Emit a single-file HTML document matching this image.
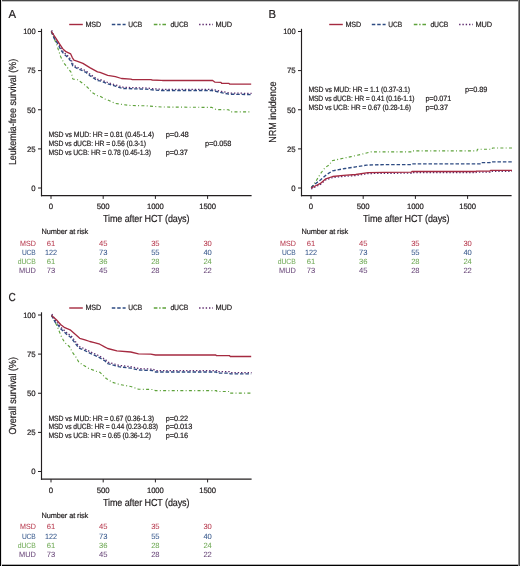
<!DOCTYPE html>
<html><head><meta charset="utf-8"><title>Survival curves</title>
<style>
html,body{margin:0;padding:0;background:#fff;}
body{width:520px;height:566px;overflow:hidden;}
svg{display:block;font-family:"Liberation Sans", sans-serif;will-change:transform;text-rendering:geometricPrecision;}
</style></head>
<body>
<svg width="520" height="566" viewBox="0 0 520 566">
<rect x="0" y="0" width="520" height="566" fill="#fff"/>
<text transform="translate(8.52,17.60) scale(0.9771,1)" font-size="11.6" fill="#231f20" stroke="#231f20" stroke-width="0.2" textLength="7.74" lengthAdjust="spacing" >A</text>
<line x1="69.20" y1="24.50" x2="82.80" y2="24.50" stroke="#a52a40" stroke-width="1.4"/>
<line x1="111.80" y1="24.50" x2="125.60" y2="24.50" stroke="#2e4b82" stroke-width="1.4" stroke-dasharray="3.5 1.9"/>
<line x1="153.80" y1="24.50" x2="166.40" y2="24.50" stroke="#5ea23b" stroke-width="1.3" stroke-dasharray="3.6 1.8 1.4 1.8"/>
<line x1="199.10" y1="24.50" x2="213.00" y2="24.50" stroke="#5e2a6e" stroke-width="1.4" stroke-dasharray="1.4 1.9"/>
<text transform="translate(85.42,26.80) scale(0.9450,1)" font-size="7.6" fill="#231f20" stroke="#231f20" stroke-width="0.2" textLength="16.68" lengthAdjust="spacing" >MSD</text>
<text transform="translate(128.22,26.80) scale(0.8762,1)" font-size="7.6" fill="#231f20" stroke="#231f20" stroke-width="0.2" textLength="15.82" lengthAdjust="spacing" >UCB</text>
<text transform="translate(170.42,26.80) scale(0.9007,1)" font-size="7.6" fill="#231f20" stroke="#231f20" stroke-width="0.2" textLength="19.94" lengthAdjust="spacing" >dUCB</text>
<text transform="translate(215.42,26.80) scale(0.9741,1)" font-size="7.6" fill="#231f20" stroke="#231f20" stroke-width="0.2" textLength="17.10" lengthAdjust="spacing" >MUD</text>
<line x1="41.50" y1="28.80" x2="41.50" y2="196.30" stroke="#231f20" stroke-width="1.15"/>
<line x1="40.95" y1="195.70" x2="251.60" y2="195.70" stroke="#231f20" stroke-width="1.2"/>
<line x1="38.00" y1="31.50" x2="41.50" y2="31.50" stroke="#231f20" stroke-width="1.0"/>
<text transform="translate(23.21,34.30) scale(0.9668,1)" font-size="7.8" fill="#231f20" stroke="#231f20" stroke-width="0.2" textLength="12.81" lengthAdjust="spacing" >100</text>
<line x1="38.00" y1="70.60" x2="41.50" y2="70.60" stroke="#231f20" stroke-width="1.0"/>
<text transform="translate(26.91,73.40) scale(1.0000,1)" font-size="7.8" fill="#231f20" stroke="#231f20" stroke-width="0.2" textLength="8.68" lengthAdjust="spacing" >75</text>
<line x1="38.00" y1="109.75" x2="41.50" y2="109.75" stroke="#231f20" stroke-width="1.0"/>
<text transform="translate(26.91,112.55) scale(1.0000,1)" font-size="7.8" fill="#231f20" stroke="#231f20" stroke-width="0.2" textLength="8.68" lengthAdjust="spacing" >50</text>
<line x1="38.00" y1="148.90" x2="41.50" y2="148.90" stroke="#231f20" stroke-width="1.0"/>
<text transform="translate(26.91,151.70) scale(1.0000,1)" font-size="7.8" fill="#231f20" stroke="#231f20" stroke-width="0.2" textLength="8.68" lengthAdjust="spacing" >25</text>
<line x1="38.00" y1="188.00" x2="41.50" y2="188.00" stroke="#231f20" stroke-width="1.0"/>
<text transform="translate(31.21,190.80) scale(1.0000,1)" font-size="7.8" fill="#231f20" stroke="#231f20" stroke-width="0.2" textLength="4.38" lengthAdjust="spacing" >0</text>
<line x1="51.00" y1="195.70" x2="51.00" y2="198.90" stroke="#231f20" stroke-width="1.0"/>
<text transform="translate(48.81,209.20) scale(1.0000,1)" font-size="7.8" fill="#231f20" stroke="#231f20" stroke-width="0.2" textLength="4.38" lengthAdjust="spacing" >0</text>
<line x1="103.20" y1="195.70" x2="103.20" y2="198.90" stroke="#231f20" stroke-width="1.0"/>
<text transform="translate(96.76,209.20) scale(1.0000,1)" font-size="7.8" fill="#231f20" stroke="#231f20" stroke-width="0.2" textLength="12.88" lengthAdjust="spacing" >500</text>
<line x1="155.40" y1="195.70" x2="155.40" y2="198.90" stroke="#231f20" stroke-width="1.0"/>
<text transform="translate(147.01,209.20) scale(0.9844,1)" font-size="7.8" fill="#231f20" stroke="#231f20" stroke-width="0.2" textLength="17.05" lengthAdjust="spacing" >1000</text>
<line x1="207.60" y1="195.70" x2="207.60" y2="198.90" stroke="#231f20" stroke-width="1.0"/>
<text transform="translate(199.21,209.20) scale(0.9844,1)" font-size="7.8" fill="#231f20" stroke="#231f20" stroke-width="0.2" textLength="17.05" lengthAdjust="spacing" >1500</text>
<text transform="translate(102.99,222.40) scale(0.8825,1)" font-size="10.2" fill="#231f20" stroke="#231f20" stroke-width="0.2" textLength="98.04" lengthAdjust="spacing" >Time after HCT (days)</text>
<text transform="translate(15.60,165.10) rotate(-90)" x="0" y="0" font-size="10.2" fill="#231f20" stroke="#231f20" stroke-width="0.2" textLength="106.30" lengthAdjust="spacingAndGlyphs">Leukemia-free survival (%)</text>
<polyline points="51.30,31.50 54.20,38.50 56.40,43.80 58.50,50.10 60.60,56.50 63.80,62.90 67.50,67.60 71.20,72.40 72.30,76.70 72.80,79.00 77.60,79.80 80.80,82.00 85.00,85.10 89.20,88.90 91.10,91.80 97.50,95.70 100.00,96.20 104.60,98.90 107.70,100.00 115.40,103.40 123.00,104.60 130.80,105.50 146.00,105.80 161.50,107.00 211.90,107.40 216.00,109.50 228.80,109.80 230.40,111.80 251.20,111.80" fill="none" stroke="#5ea23b" stroke-width="1.15" stroke-dasharray="3.0 2.3 1.0 2.3" stroke-linejoin="round"/>
<polyline points="51.70,30.30 54.60,37.30 58.90,43.60 61.00,48.40 64.20,52.70 68.40,56.40 71.60,60.60 73.20,64.90 78.00,67.50 82.20,69.10 86.50,71.20 90.20,74.40 97.90,79.40 100.40,79.60 108.10,82.60 115.80,85.00 123.40,87.30 146.40,88.00 154.20,88.80 161.90,89.30 212.30,89.30 221.60,91.40 229.20,93.00 251.60,93.40" fill="none" stroke="#5e2a6e" stroke-width="1.25" stroke-dasharray="1.4 1.9" stroke-linejoin="round"/>
<polyline points="51.30,31.50 54.20,38.50 58.50,44.80 60.60,49.60 63.80,53.90 68.00,57.60 71.20,61.80 72.80,66.10 77.60,68.70 81.80,70.30 86.10,72.40 89.80,75.60 97.50,80.60 100.00,80.80 107.70,83.80 115.40,86.20 123.00,88.50 146.00,89.20 153.80,90.00 161.50,90.50 211.90,90.50 221.20,92.60 228.80,94.20 251.20,94.60" fill="none" stroke="#2e4b82" stroke-width="1.35" stroke-dasharray="3.5 1.9" stroke-linejoin="round"/>
<polyline points="51.30,31.50 55.30,37.40 59.50,43.80 62.70,48.60 65.90,51.70 70.70,53.90 72.30,57.60 73.90,60.20 77.60,61.30 82.90,63.40 89.80,67.60 97.50,71.90 100.00,72.30 107.70,75.40 115.40,76.60 121.50,78.50 130.80,79.20 132.30,79.70 150.80,79.70 152.30,80.00 161.50,80.30 163.00,80.50 212.70,80.50 215.00,82.20 221.00,82.40 221.60,83.30 229.00,83.30 229.60,84.20 251.20,84.20" fill="none" stroke="#a52a40" stroke-width="1.3" stroke-linejoin="round"/>
<text transform="translate(48.42,137.00) scale(0.9076,1)" font-size="7.6" fill="#231f20" stroke="#231f20" stroke-width="0.2" textLength="116.31" lengthAdjust="spacing" >MSD vs MUD: HR = 0.81 (0.45-1.4)</text>
<text transform="translate(48.42,145.90) scale(0.8959,1)" font-size="7.6" fill="#231f20" stroke="#231f20" stroke-width="0.2" textLength="108.89" lengthAdjust="spacing" >MSD vs dUCB: HR = 0.56 (0.3-1)</text>
<text transform="translate(48.42,154.80) scale(0.8927,1)" font-size="7.6" fill="#231f20" stroke="#231f20" stroke-width="0.2" textLength="114.99" lengthAdjust="spacing" >MSD vs UCB: HR = 0.78 (0.45-1.3)</text>
<text transform="translate(165.72,137.00) scale(1.0000,1)" font-size="7.6" fill="#231f20" stroke="#231f20" stroke-width="0.2" textLength="23.06" lengthAdjust="spacing" >p=0.48</text>
<text transform="translate(205.02,145.90) scale(0.9739,1)" font-size="7.6" fill="#231f20" stroke="#231f20" stroke-width="0.2" textLength="27.07" lengthAdjust="spacing" >p=0.058</text>
<text transform="translate(165.72,154.80) scale(0.9703,1)" font-size="7.6" fill="#231f20" stroke="#231f20" stroke-width="0.2" textLength="22.94" lengthAdjust="spacing" >p=0.37</text>
<text transform="translate(41.52,234.20) scale(0.9727,1)" font-size="7.6" fill="#231f20" stroke="#231f20" stroke-width="0.2" textLength="48.07" lengthAdjust="spacing" >Number at risk</text>
<text transform="translate(20.12,245.80) scale(0.9391,1)" font-size="7.6" fill="#b83c50" stroke="#b83c50" stroke-width="0.05" textLength="16.68" lengthAdjust="spacing" >MSD</text>
<text transform="translate(46.82,245.80) scale(1.0000,1)" font-size="7.6" fill="#b83c50" stroke="#b83c50" stroke-width="0.05" textLength="8.36" lengthAdjust="spacing" >61</text>
<text transform="translate(99.02,245.80) scale(1.0000,1)" font-size="7.6" fill="#b83c50" stroke="#b83c50" stroke-width="0.05" textLength="8.36" lengthAdjust="spacing" >45</text>
<text transform="translate(151.22,245.80) scale(1.0000,1)" font-size="7.6" fill="#b83c50" stroke="#b83c50" stroke-width="0.05" textLength="8.36" lengthAdjust="spacing" >35</text>
<text transform="translate(203.42,245.80) scale(1.0000,1)" font-size="7.6" fill="#b83c50" stroke="#b83c50" stroke-width="0.05" textLength="8.36" lengthAdjust="spacing" >30</text>
<text transform="translate(21.92,255.20) scale(0.8762,1)" font-size="7.6" fill="#37588c" stroke="#37588c" stroke-width="0.05" textLength="15.82" lengthAdjust="spacing" >UCB</text>
<text transform="translate(45.02,255.20) scale(0.9591,1)" font-size="7.6" fill="#37588c" stroke="#37588c" stroke-width="0.05" textLength="12.47" lengthAdjust="spacing" >122</text>
<text transform="translate(99.02,255.20) scale(1.0000,1)" font-size="7.6" fill="#37588c" stroke="#37588c" stroke-width="0.05" textLength="8.36" lengthAdjust="spacing" >73</text>
<text transform="translate(151.22,255.20) scale(1.0000,1)" font-size="7.6" fill="#37588c" stroke="#37588c" stroke-width="0.05" textLength="8.36" lengthAdjust="spacing" >55</text>
<text transform="translate(203.42,255.20) scale(1.0000,1)" font-size="7.6" fill="#37588c" stroke="#37588c" stroke-width="0.05" textLength="8.36" lengthAdjust="spacing" >40</text>
<text transform="translate(17.82,264.40) scale(0.9007,1)" font-size="7.6" fill="#70aa56" stroke="#70aa56" stroke-width="0.05" textLength="19.94" lengthAdjust="spacing" >dUCB</text>
<text transform="translate(46.82,264.40) scale(1.0000,1)" font-size="7.6" fill="#70aa56" stroke="#70aa56" stroke-width="0.05" textLength="8.36" lengthAdjust="spacing" >61</text>
<text transform="translate(99.02,264.40) scale(1.0000,1)" font-size="7.6" fill="#70aa56" stroke="#70aa56" stroke-width="0.05" textLength="8.36" lengthAdjust="spacing" >36</text>
<text transform="translate(151.22,264.40) scale(1.0000,1)" font-size="7.6" fill="#70aa56" stroke="#70aa56" stroke-width="0.05" textLength="8.36" lengthAdjust="spacing" >28</text>
<text transform="translate(203.42,264.40) scale(1.0000,1)" font-size="7.6" fill="#70aa56" stroke="#70aa56" stroke-width="0.05" textLength="8.36" lengthAdjust="spacing" >24</text>
<text transform="translate(19.12,273.00) scale(0.9741,1)" font-size="7.6" fill="#6a487a" stroke="#6a487a" stroke-width="0.05" textLength="17.10" lengthAdjust="spacing" >MUD</text>
<text transform="translate(46.82,273.00) scale(1.0000,1)" font-size="7.6" fill="#6a487a" stroke="#6a487a" stroke-width="0.05" textLength="8.36" lengthAdjust="spacing" >73</text>
<text transform="translate(99.02,273.00) scale(1.0000,1)" font-size="7.6" fill="#6a487a" stroke="#6a487a" stroke-width="0.05" textLength="8.36" lengthAdjust="spacing" >45</text>
<text transform="translate(151.22,273.00) scale(1.0000,1)" font-size="7.6" fill="#6a487a" stroke="#6a487a" stroke-width="0.05" textLength="8.36" lengthAdjust="spacing" >28</text>
<text transform="translate(203.42,273.00) scale(1.0000,1)" font-size="7.6" fill="#6a487a" stroke="#6a487a" stroke-width="0.05" textLength="8.36" lengthAdjust="spacing" >22</text>
<text transform="translate(268.52,17.60) scale(0.9771,1)" font-size="11.6" fill="#231f20" stroke="#231f20" stroke-width="0.2" textLength="7.74" lengthAdjust="spacing" >B</text>
<line x1="329.20" y1="24.50" x2="342.80" y2="24.50" stroke="#a52a40" stroke-width="1.4"/>
<line x1="371.80" y1="24.50" x2="385.60" y2="24.50" stroke="#2e4b82" stroke-width="1.4" stroke-dasharray="3.5 1.9"/>
<line x1="413.80" y1="24.50" x2="426.40" y2="24.50" stroke="#5ea23b" stroke-width="1.3" stroke-dasharray="3.6 1.8 1.4 1.8"/>
<line x1="459.10" y1="24.50" x2="473.00" y2="24.50" stroke="#5e2a6e" stroke-width="1.4" stroke-dasharray="1.4 1.9"/>
<text transform="translate(345.42,26.80) scale(0.9450,1)" font-size="7.6" fill="#231f20" stroke="#231f20" stroke-width="0.2" textLength="16.68" lengthAdjust="spacing" >MSD</text>
<text transform="translate(388.22,26.80) scale(0.8762,1)" font-size="7.6" fill="#231f20" stroke="#231f20" stroke-width="0.2" textLength="15.82" lengthAdjust="spacing" >UCB</text>
<text transform="translate(430.42,26.80) scale(0.9007,1)" font-size="7.6" fill="#231f20" stroke="#231f20" stroke-width="0.2" textLength="19.94" lengthAdjust="spacing" >dUCB</text>
<text transform="translate(475.42,26.80) scale(0.9741,1)" font-size="7.6" fill="#231f20" stroke="#231f20" stroke-width="0.2" textLength="17.10" lengthAdjust="spacing" >MUD</text>
<line x1="301.50" y1="28.80" x2="301.50" y2="196.30" stroke="#231f20" stroke-width="1.15"/>
<line x1="300.95" y1="195.70" x2="511.60" y2="195.70" stroke="#231f20" stroke-width="1.2"/>
<line x1="298.00" y1="31.50" x2="301.50" y2="31.50" stroke="#231f20" stroke-width="1.0"/>
<text transform="translate(283.21,34.30) scale(0.9668,1)" font-size="7.8" fill="#231f20" stroke="#231f20" stroke-width="0.2" textLength="12.81" lengthAdjust="spacing" >100</text>
<line x1="298.00" y1="70.60" x2="301.50" y2="70.60" stroke="#231f20" stroke-width="1.0"/>
<text transform="translate(286.91,73.40) scale(1.0000,1)" font-size="7.8" fill="#231f20" stroke="#231f20" stroke-width="0.2" textLength="8.68" lengthAdjust="spacing" >75</text>
<line x1="298.00" y1="109.75" x2="301.50" y2="109.75" stroke="#231f20" stroke-width="1.0"/>
<text transform="translate(286.91,112.55) scale(1.0000,1)" font-size="7.8" fill="#231f20" stroke="#231f20" stroke-width="0.2" textLength="8.68" lengthAdjust="spacing" >50</text>
<line x1="298.00" y1="148.90" x2="301.50" y2="148.90" stroke="#231f20" stroke-width="1.0"/>
<text transform="translate(286.91,151.70) scale(1.0000,1)" font-size="7.8" fill="#231f20" stroke="#231f20" stroke-width="0.2" textLength="8.68" lengthAdjust="spacing" >25</text>
<line x1="298.00" y1="188.00" x2="301.50" y2="188.00" stroke="#231f20" stroke-width="1.0"/>
<text transform="translate(291.21,190.80) scale(1.0000,1)" font-size="7.8" fill="#231f20" stroke="#231f20" stroke-width="0.2" textLength="4.38" lengthAdjust="spacing" >0</text>
<line x1="311.00" y1="195.70" x2="311.00" y2="198.90" stroke="#231f20" stroke-width="1.0"/>
<text transform="translate(308.81,209.20) scale(1.0000,1)" font-size="7.8" fill="#231f20" stroke="#231f20" stroke-width="0.2" textLength="4.38" lengthAdjust="spacing" >0</text>
<line x1="363.20" y1="195.70" x2="363.20" y2="198.90" stroke="#231f20" stroke-width="1.0"/>
<text transform="translate(356.76,209.20) scale(1.0000,1)" font-size="7.8" fill="#231f20" stroke="#231f20" stroke-width="0.2" textLength="12.88" lengthAdjust="spacing" >500</text>
<line x1="415.40" y1="195.70" x2="415.40" y2="198.90" stroke="#231f20" stroke-width="1.0"/>
<text transform="translate(407.01,209.20) scale(0.9844,1)" font-size="7.8" fill="#231f20" stroke="#231f20" stroke-width="0.2" textLength="17.05" lengthAdjust="spacing" >1000</text>
<line x1="467.60" y1="195.70" x2="467.60" y2="198.90" stroke="#231f20" stroke-width="1.0"/>
<text transform="translate(459.21,209.20) scale(0.9844,1)" font-size="7.8" fill="#231f20" stroke="#231f20" stroke-width="0.2" textLength="17.05" lengthAdjust="spacing" >1500</text>
<text transform="translate(362.99,222.40) scale(0.8825,1)" font-size="10.2" fill="#231f20" stroke="#231f20" stroke-width="0.2" textLength="98.04" lengthAdjust="spacing" >Time after HCT (days)</text>
<text transform="translate(275.60,142.70) rotate(-90)" x="0" y="0" font-size="10.2" fill="#231f20" stroke="#231f20" stroke-width="0.2" textLength="61.10" lengthAdjust="spacingAndGlyphs">NRM incidence</text>
<polyline points="311.20,187.70 315.80,181.50 320.40,173.80 325.00,167.70 329.60,164.60 331.90,160.80 338.80,159.20 351.20,156.60 363.50,153.80 371.20,151.80 411.50,151.80 412.00,150.80 477.00,150.80 477.50,149.20 492.00,149.20 492.50,148.00 512.00,148.00" fill="none" stroke="#5ea23b" stroke-width="1.15" stroke-dasharray="3.0 2.3 1.0 2.3" stroke-linejoin="round"/>
<polyline points="311.20,189.00 314.20,187.50 320.40,184.40 325.80,179.80 332.70,177.50 343.50,176.40 355.80,175.50 368.10,173.60 384.20,173.30 411.50,173.20 412.00,172.50 476.00,172.50 476.50,172.10 490.00,172.10 490.50,171.30 512.00,171.30" fill="none" stroke="#5e2a6e" stroke-width="1.25" stroke-dasharray="1.4 1.9" stroke-linejoin="round"/>
<polyline points="311.20,187.70 314.20,184.60 320.40,180.00 326.50,174.60 332.70,170.80 345.00,168.50 355.80,166.90 366.50,165.10 384.20,164.60 411.50,164.60 412.00,163.80 481.00,163.80 481.50,162.60 490.00,162.60 490.50,161.80 512.00,161.80" fill="none" stroke="#2e4b82" stroke-width="1.35" stroke-dasharray="3.5 1.9" stroke-linejoin="round"/>
<polyline points="311.20,188.00 314.20,186.50 320.40,183.40 325.80,178.80 332.70,176.50 343.50,175.40 355.80,174.50 368.10,172.60 384.20,172.30 411.50,172.20 412.00,171.50 476.00,171.50 476.50,171.10 490.00,171.10 490.50,170.30 512.00,170.30" fill="none" stroke="#a52a40" stroke-width="1.3" stroke-linejoin="round"/>
<text transform="translate(308.42,92.10) scale(0.9053,1)" font-size="7.6" fill="#231f20" stroke="#231f20" stroke-width="0.2" textLength="112.19" lengthAdjust="spacing" >MSD vs MUD: HR = 1.1 (0.37-3.1)</text>
<text transform="translate(308.42,101.00) scale(0.8913,1)" font-size="7.6" fill="#231f20" stroke="#231f20" stroke-width="0.2" textLength="119.10" lengthAdjust="spacing" >MSD vs dUCB: HR = 0.41 (0.16-1.1)</text>
<text transform="translate(308.42,110.00) scale(0.8927,1)" font-size="7.6" fill="#231f20" stroke="#231f20" stroke-width="0.2" textLength="114.99" lengthAdjust="spacing" >MSD vs UCB: HR = 0.67 (0.28-1.6)</text>
<text transform="translate(465.02,92.10) scale(0.9703,1)" font-size="7.6" fill="#231f20" stroke="#231f20" stroke-width="0.2" textLength="22.94" lengthAdjust="spacing" >p=0.89</text>
<text transform="translate(425.42,101.00) scale(0.9522,1)" font-size="7.6" fill="#231f20" stroke="#231f20" stroke-width="0.2" textLength="27.05" lengthAdjust="spacing" >p=0.071</text>
<text transform="translate(425.42,110.00) scale(0.9874,1)" font-size="7.6" fill="#231f20" stroke="#231f20" stroke-width="0.2" textLength="22.95" lengthAdjust="spacing" >p=0.37</text>
<text transform="translate(301.52,234.20) scale(0.9727,1)" font-size="7.6" fill="#231f20" stroke="#231f20" stroke-width="0.2" textLength="48.07" lengthAdjust="spacing" >Number at risk</text>
<text transform="translate(280.12,245.80) scale(0.9391,1)" font-size="7.6" fill="#b83c50" stroke="#b83c50" stroke-width="0.05" textLength="16.68" lengthAdjust="spacing" >MSD</text>
<text transform="translate(306.82,245.80) scale(1.0000,1)" font-size="7.6" fill="#b83c50" stroke="#b83c50" stroke-width="0.05" textLength="8.36" lengthAdjust="spacing" >61</text>
<text transform="translate(359.02,245.80) scale(1.0000,1)" font-size="7.6" fill="#b83c50" stroke="#b83c50" stroke-width="0.05" textLength="8.36" lengthAdjust="spacing" >45</text>
<text transform="translate(411.22,245.80) scale(1.0000,1)" font-size="7.6" fill="#b83c50" stroke="#b83c50" stroke-width="0.05" textLength="8.36" lengthAdjust="spacing" >35</text>
<text transform="translate(463.42,245.80) scale(1.0000,1)" font-size="7.6" fill="#b83c50" stroke="#b83c50" stroke-width="0.05" textLength="8.36" lengthAdjust="spacing" >30</text>
<text transform="translate(281.92,255.20) scale(0.8762,1)" font-size="7.6" fill="#37588c" stroke="#37588c" stroke-width="0.05" textLength="15.82" lengthAdjust="spacing" >UCB</text>
<text transform="translate(305.02,255.20) scale(0.9591,1)" font-size="7.6" fill="#37588c" stroke="#37588c" stroke-width="0.05" textLength="12.47" lengthAdjust="spacing" >122</text>
<text transform="translate(359.02,255.20) scale(1.0000,1)" font-size="7.6" fill="#37588c" stroke="#37588c" stroke-width="0.05" textLength="8.36" lengthAdjust="spacing" >73</text>
<text transform="translate(411.22,255.20) scale(1.0000,1)" font-size="7.6" fill="#37588c" stroke="#37588c" stroke-width="0.05" textLength="8.36" lengthAdjust="spacing" >55</text>
<text transform="translate(463.42,255.20) scale(1.0000,1)" font-size="7.6" fill="#37588c" stroke="#37588c" stroke-width="0.05" textLength="8.36" lengthAdjust="spacing" >40</text>
<text transform="translate(277.82,264.40) scale(0.9007,1)" font-size="7.6" fill="#70aa56" stroke="#70aa56" stroke-width="0.05" textLength="19.94" lengthAdjust="spacing" >dUCB</text>
<text transform="translate(306.82,264.40) scale(1.0000,1)" font-size="7.6" fill="#70aa56" stroke="#70aa56" stroke-width="0.05" textLength="8.36" lengthAdjust="spacing" >61</text>
<text transform="translate(359.02,264.40) scale(1.0000,1)" font-size="7.6" fill="#70aa56" stroke="#70aa56" stroke-width="0.05" textLength="8.36" lengthAdjust="spacing" >36</text>
<text transform="translate(411.22,264.40) scale(1.0000,1)" font-size="7.6" fill="#70aa56" stroke="#70aa56" stroke-width="0.05" textLength="8.36" lengthAdjust="spacing" >28</text>
<text transform="translate(463.42,264.40) scale(1.0000,1)" font-size="7.6" fill="#70aa56" stroke="#70aa56" stroke-width="0.05" textLength="8.36" lengthAdjust="spacing" >24</text>
<text transform="translate(279.12,273.00) scale(0.9741,1)" font-size="7.6" fill="#6a487a" stroke="#6a487a" stroke-width="0.05" textLength="17.10" lengthAdjust="spacing" >MUD</text>
<text transform="translate(306.82,273.00) scale(1.0000,1)" font-size="7.6" fill="#6a487a" stroke="#6a487a" stroke-width="0.05" textLength="8.36" lengthAdjust="spacing" >73</text>
<text transform="translate(359.02,273.00) scale(1.0000,1)" font-size="7.6" fill="#6a487a" stroke="#6a487a" stroke-width="0.05" textLength="8.36" lengthAdjust="spacing" >45</text>
<text transform="translate(411.22,273.00) scale(1.0000,1)" font-size="7.6" fill="#6a487a" stroke="#6a487a" stroke-width="0.05" textLength="8.36" lengthAdjust="spacing" >28</text>
<text transform="translate(463.42,273.00) scale(1.0000,1)" font-size="7.6" fill="#6a487a" stroke="#6a487a" stroke-width="0.05" textLength="8.36" lengthAdjust="spacing" >22</text>
<text transform="translate(8.52,301.10) scale(0.8666,1)" font-size="11.6" fill="#231f20" stroke="#231f20" stroke-width="0.2" textLength="8.38" lengthAdjust="spacing" >C</text>
<line x1="69.20" y1="308.00" x2="82.80" y2="308.00" stroke="#a52a40" stroke-width="1.4"/>
<line x1="111.80" y1="308.00" x2="125.60" y2="308.00" stroke="#2e4b82" stroke-width="1.4" stroke-dasharray="3.5 1.9"/>
<line x1="153.80" y1="308.00" x2="166.40" y2="308.00" stroke="#5ea23b" stroke-width="1.3" stroke-dasharray="3.6 1.8 1.4 1.8"/>
<line x1="199.10" y1="308.00" x2="213.00" y2="308.00" stroke="#5e2a6e" stroke-width="1.4" stroke-dasharray="1.4 1.9"/>
<text transform="translate(85.42,310.30) scale(0.9450,1)" font-size="7.6" fill="#231f20" stroke="#231f20" stroke-width="0.2" textLength="16.68" lengthAdjust="spacing" >MSD</text>
<text transform="translate(128.22,310.30) scale(0.8762,1)" font-size="7.6" fill="#231f20" stroke="#231f20" stroke-width="0.2" textLength="15.82" lengthAdjust="spacing" >UCB</text>
<text transform="translate(170.42,310.30) scale(0.9007,1)" font-size="7.6" fill="#231f20" stroke="#231f20" stroke-width="0.2" textLength="19.94" lengthAdjust="spacing" >dUCB</text>
<text transform="translate(215.42,310.30) scale(0.9741,1)" font-size="7.6" fill="#231f20" stroke="#231f20" stroke-width="0.2" textLength="17.10" lengthAdjust="spacing" >MUD</text>
<line x1="41.50" y1="312.30" x2="41.50" y2="479.80" stroke="#231f20" stroke-width="1.15"/>
<line x1="40.95" y1="479.20" x2="251.60" y2="479.20" stroke="#231f20" stroke-width="1.2"/>
<line x1="38.00" y1="315.00" x2="41.50" y2="315.00" stroke="#231f20" stroke-width="1.0"/>
<text transform="translate(23.21,317.80) scale(0.9668,1)" font-size="7.8" fill="#231f20" stroke="#231f20" stroke-width="0.2" textLength="12.81" lengthAdjust="spacing" >100</text>
<line x1="38.00" y1="354.10" x2="41.50" y2="354.10" stroke="#231f20" stroke-width="1.0"/>
<text transform="translate(26.91,356.90) scale(1.0000,1)" font-size="7.8" fill="#231f20" stroke="#231f20" stroke-width="0.2" textLength="8.68" lengthAdjust="spacing" >75</text>
<line x1="38.00" y1="393.25" x2="41.50" y2="393.25" stroke="#231f20" stroke-width="1.0"/>
<text transform="translate(26.91,396.05) scale(1.0000,1)" font-size="7.8" fill="#231f20" stroke="#231f20" stroke-width="0.2" textLength="8.68" lengthAdjust="spacing" >50</text>
<line x1="38.00" y1="432.40" x2="41.50" y2="432.40" stroke="#231f20" stroke-width="1.0"/>
<text transform="translate(26.91,435.20) scale(1.0000,1)" font-size="7.8" fill="#231f20" stroke="#231f20" stroke-width="0.2" textLength="8.68" lengthAdjust="spacing" >25</text>
<line x1="38.00" y1="471.50" x2="41.50" y2="471.50" stroke="#231f20" stroke-width="1.0"/>
<text transform="translate(31.21,474.30) scale(1.0000,1)" font-size="7.8" fill="#231f20" stroke="#231f20" stroke-width="0.2" textLength="4.38" lengthAdjust="spacing" >0</text>
<line x1="51.00" y1="479.20" x2="51.00" y2="482.40" stroke="#231f20" stroke-width="1.0"/>
<text transform="translate(48.81,492.70) scale(1.0000,1)" font-size="7.8" fill="#231f20" stroke="#231f20" stroke-width="0.2" textLength="4.38" lengthAdjust="spacing" >0</text>
<line x1="103.20" y1="479.20" x2="103.20" y2="482.40" stroke="#231f20" stroke-width="1.0"/>
<text transform="translate(96.76,492.70) scale(1.0000,1)" font-size="7.8" fill="#231f20" stroke="#231f20" stroke-width="0.2" textLength="12.88" lengthAdjust="spacing" >500</text>
<line x1="155.40" y1="479.20" x2="155.40" y2="482.40" stroke="#231f20" stroke-width="1.0"/>
<text transform="translate(147.01,492.70) scale(0.9844,1)" font-size="7.8" fill="#231f20" stroke="#231f20" stroke-width="0.2" textLength="17.05" lengthAdjust="spacing" >1000</text>
<line x1="207.60" y1="479.20" x2="207.60" y2="482.40" stroke="#231f20" stroke-width="1.0"/>
<text transform="translate(199.21,492.70) scale(0.9844,1)" font-size="7.8" fill="#231f20" stroke="#231f20" stroke-width="0.2" textLength="17.05" lengthAdjust="spacing" >1500</text>
<text transform="translate(102.99,505.90) scale(0.8825,1)" font-size="10.2" fill="#231f20" stroke="#231f20" stroke-width="0.2" textLength="98.04" lengthAdjust="spacing" >Time after HCT (days)</text>
<text transform="translate(15.60,434.60) rotate(-90)" x="0" y="0" font-size="10.2" fill="#231f20" stroke="#231f20" stroke-width="0.2" textLength="77.60" lengthAdjust="spacingAndGlyphs">Overall survival (%)</text>
<polyline points="51.50,315.40 54.80,321.40 57.40,326.70 59.50,332.00 61.70,337.30 64.80,342.60 69.60,346.80 72.30,352.10 75.50,356.40 78.60,361.70 81.80,364.30 89.20,368.60 95.90,371.20 100.00,372.30 106.20,378.50 112.30,382.30 120.00,384.60 130.80,386.50 138.50,389.20 152.30,389.50 155.40,390.60 216.50,390.60 217.00,391.50 229.60,391.50 230.10,393.10 251.20,393.10" fill="none" stroke="#5ea23b" stroke-width="1.15" stroke-dasharray="3.0 2.3 1.0 2.3" stroke-linejoin="round"/>
<polyline points="51.90,314.00 55.70,321.00 58.90,324.20 61.00,327.40 66.30,332.20 71.60,336.40 75.90,342.20 79.00,346.50 84.30,348.60 90.20,351.80 97.90,355.20 105.00,359.20 108.10,362.20 118.90,365.30 131.20,366.80 138.90,368.60 152.70,369.10 155.80,370.60 216.90,370.60 217.40,371.70 230.00,371.70 230.50,372.50 251.60,372.50" fill="none" stroke="#5e2a6e" stroke-width="1.25" stroke-dasharray="1.4 1.9" stroke-linejoin="round"/>
<polyline points="51.50,315.40 55.30,322.40 58.50,325.60 60.60,328.80 65.90,333.60 71.20,337.80 75.50,343.60 78.60,347.90 83.90,350.00 89.80,353.20 97.50,356.60 104.60,360.60 107.70,363.60 118.50,366.70 130.80,368.20 138.50,370.00 152.30,370.50 155.40,372.00 216.50,372.00 217.00,373.10 229.60,373.10 230.10,373.90 251.20,373.90" fill="none" stroke="#2e4b82" stroke-width="1.35" stroke-dasharray="3.5 1.9" stroke-linejoin="round"/>
<polyline points="51.50,315.40 56.40,319.80 60.60,324.50 64.80,327.70 70.10,329.80 75.50,334.60 79.70,338.30 85.00,339.90 89.80,341.50 94.30,342.60 99.80,344.20 104.60,346.90 107.70,348.50 116.90,350.80 130.80,352.00 138.50,353.80 150.80,354.20 155.40,355.00 215.80,355.00 216.30,355.70 229.60,355.70 230.10,356.50 251.20,356.50" fill="none" stroke="#a52a40" stroke-width="1.3" stroke-linejoin="round"/>
<text transform="translate(48.42,420.50) scale(0.9076,1)" font-size="7.6" fill="#231f20" stroke="#231f20" stroke-width="0.2" textLength="116.31" lengthAdjust="spacing" >MSD vs MUD: HR = 0.67 (0.36-1.3)</text>
<text transform="translate(48.42,429.40) scale(0.8900,1)" font-size="7.6" fill="#231f20" stroke="#231f20" stroke-width="0.2" textLength="123.21" lengthAdjust="spacing" >MSD vs dUCB: HR = 0.44 (0.23-0.83)</text>
<text transform="translate(48.42,438.30) scale(0.8927,1)" font-size="7.6" fill="#231f20" stroke="#231f20" stroke-width="0.2" textLength="114.99" lengthAdjust="spacing" >MSD vs UCB: HR = 0.65 (0.36-1.2)</text>
<text transform="translate(165.82,420.50) scale(0.9703,1)" font-size="7.6" fill="#231f20" stroke="#231f20" stroke-width="0.2" textLength="22.94" lengthAdjust="spacing" >p=0.22</text>
<text transform="translate(165.82,429.40) scale(0.9775,1)" font-size="7.6" fill="#231f20" stroke="#231f20" stroke-width="0.2" textLength="27.07" lengthAdjust="spacing" >p=0.013</text>
<text transform="translate(165.82,438.30) scale(0.9703,1)" font-size="7.6" fill="#231f20" stroke="#231f20" stroke-width="0.2" textLength="22.94" lengthAdjust="spacing" >p=0.16</text>
<text transform="translate(41.52,517.70) scale(0.9727,1)" font-size="7.6" fill="#231f20" stroke="#231f20" stroke-width="0.2" textLength="48.07" lengthAdjust="spacing" >Number at risk</text>
<text transform="translate(20.12,529.30) scale(0.9391,1)" font-size="7.6" fill="#b83c50" stroke="#b83c50" stroke-width="0.05" textLength="16.68" lengthAdjust="spacing" >MSD</text>
<text transform="translate(46.82,529.30) scale(1.0000,1)" font-size="7.6" fill="#b83c50" stroke="#b83c50" stroke-width="0.05" textLength="8.36" lengthAdjust="spacing" >61</text>
<text transform="translate(99.02,529.30) scale(1.0000,1)" font-size="7.6" fill="#b83c50" stroke="#b83c50" stroke-width="0.05" textLength="8.36" lengthAdjust="spacing" >45</text>
<text transform="translate(151.22,529.30) scale(1.0000,1)" font-size="7.6" fill="#b83c50" stroke="#b83c50" stroke-width="0.05" textLength="8.36" lengthAdjust="spacing" >35</text>
<text transform="translate(203.42,529.30) scale(1.0000,1)" font-size="7.6" fill="#b83c50" stroke="#b83c50" stroke-width="0.05" textLength="8.36" lengthAdjust="spacing" >30</text>
<text transform="translate(21.92,538.70) scale(0.8762,1)" font-size="7.6" fill="#37588c" stroke="#37588c" stroke-width="0.05" textLength="15.82" lengthAdjust="spacing" >UCB</text>
<text transform="translate(45.02,538.70) scale(0.9591,1)" font-size="7.6" fill="#37588c" stroke="#37588c" stroke-width="0.05" textLength="12.47" lengthAdjust="spacing" >122</text>
<text transform="translate(99.02,538.70) scale(1.0000,1)" font-size="7.6" fill="#37588c" stroke="#37588c" stroke-width="0.05" textLength="8.36" lengthAdjust="spacing" >73</text>
<text transform="translate(151.22,538.70) scale(1.0000,1)" font-size="7.6" fill="#37588c" stroke="#37588c" stroke-width="0.05" textLength="8.36" lengthAdjust="spacing" >55</text>
<text transform="translate(203.42,538.70) scale(1.0000,1)" font-size="7.6" fill="#37588c" stroke="#37588c" stroke-width="0.05" textLength="8.36" lengthAdjust="spacing" >40</text>
<text transform="translate(17.82,547.90) scale(0.9007,1)" font-size="7.6" fill="#70aa56" stroke="#70aa56" stroke-width="0.05" textLength="19.94" lengthAdjust="spacing" >dUCB</text>
<text transform="translate(46.82,547.90) scale(1.0000,1)" font-size="7.6" fill="#70aa56" stroke="#70aa56" stroke-width="0.05" textLength="8.36" lengthAdjust="spacing" >61</text>
<text transform="translate(99.02,547.90) scale(1.0000,1)" font-size="7.6" fill="#70aa56" stroke="#70aa56" stroke-width="0.05" textLength="8.36" lengthAdjust="spacing" >36</text>
<text transform="translate(151.22,547.90) scale(1.0000,1)" font-size="7.6" fill="#70aa56" stroke="#70aa56" stroke-width="0.05" textLength="8.36" lengthAdjust="spacing" >28</text>
<text transform="translate(203.42,547.90) scale(1.0000,1)" font-size="7.6" fill="#70aa56" stroke="#70aa56" stroke-width="0.05" textLength="8.36" lengthAdjust="spacing" >24</text>
<text transform="translate(19.12,556.50) scale(0.9741,1)" font-size="7.6" fill="#6a487a" stroke="#6a487a" stroke-width="0.05" textLength="17.10" lengthAdjust="spacing" >MUD</text>
<text transform="translate(46.82,556.50) scale(1.0000,1)" font-size="7.6" fill="#6a487a" stroke="#6a487a" stroke-width="0.05" textLength="8.36" lengthAdjust="spacing" >73</text>
<text transform="translate(99.02,556.50) scale(1.0000,1)" font-size="7.6" fill="#6a487a" stroke="#6a487a" stroke-width="0.05" textLength="8.36" lengthAdjust="spacing" >45</text>
<text transform="translate(151.22,556.50) scale(1.0000,1)" font-size="7.6" fill="#6a487a" stroke="#6a487a" stroke-width="0.05" textLength="8.36" lengthAdjust="spacing" >28</text>
<text transform="translate(203.42,556.50) scale(1.0000,1)" font-size="7.6" fill="#6a487a" stroke="#6a487a" stroke-width="0.05" textLength="8.36" lengthAdjust="spacing" >22</text>
<rect x="0" y="1" width="520" height="1" fill="#c4c4c4"/>
<rect x="0" y="0" width="520" height="1" fill="#464646"/>
<rect x="0" y="564" width="520" height="1" fill="#b0b0b0"/>
<rect x="0" y="565" width="520" height="1" fill="#000"/>
<rect x="1" y="0" width="1" height="566" fill="#e4e4e4"/>
<rect x="518" y="0" width="1" height="566" fill="#8a8a8a"/>
<rect x="519" y="0" width="1" height="566" fill="#484848"/>
<rect x="0" y="0" width="1" height="566" fill="#000"/>
</svg>
</body></html>
